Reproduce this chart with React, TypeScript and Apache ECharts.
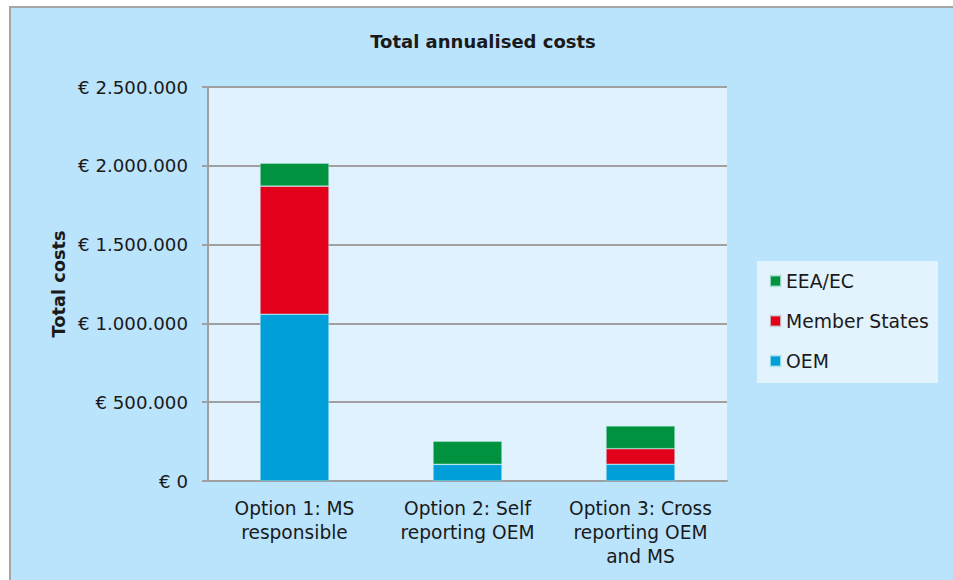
import React, { useEffect, useRef } from "react";
import * as echarts from "echarts";

const categories = [
  "Option 1: MS\nresponsible",
  "Option 2: Self\nreporting OEM",
  "Option 3: Cross\nreporting OEM\nand MS",
];
const oemValues = [1058000, 106000, 106000];
const memberStatesValues = [813000, 0, 99000];
const eeaEcValues = [146000, 146000, 145000];
const seriesNames = ["OEM", "Member States", "EEA/EC"];
const legendOrder = ["EEA/EC", "Member States", "OEM"];
const yTicks = { min: 0, max: 2500000, interval: 500000 };

const FONT = "'DejaVu Sans', Verdana, sans-serif";

function formatEuro(v: number): string {
  const s = Math.round(v).toString().replace(/\B(?=(\d{3})+(?!\d))/g, ".");
  return "€ " + s;
}

export default function App() {
  const ref = useRef<HTMLDivElement>(null);
  useEffect(() => {
    if (!ref.current) return;
    const chart = echarts.init(ref.current, undefined, { renderer: "svg" });
    const colors = ["#009fda", "#e2001a", "#00923f"];
    const values = [oemValues, memberStatesValues, eeaEcValues];
    chart.setOption({
      animation: false,
      backgroundColor: "#ffffff",
      textStyle: { fontFamily: FONT },
      graphic: [
        {
          type: "rect",
          z: -10,
          shape: { x: 10, y: 7, width: 960, height: 600 },
          style: { fill: "#bae3fc", stroke: "#a6a6a6", lineWidth: 2 },
        },
        {
          type: "rect",
          z: -5,
          shape: { x: 757, y: 261, width: 181, height: 122 },
          style: { fill: "#e2f3fe" },
        },
      ],
      title: {
        text: "Total annualised costs",
        left: 483,
        textAlign: "center",
        top: 32,
        padding: 0,
        textStyle: {
          fontFamily: FONT,
          fontSize: 18,
          fontWeight: "bold",
          color: "#1a1a1a",
        },
      },
      legend: {
        data: legendOrder,
        orient: "vertical",
        left: 769,
        top: 271,
        padding: 0,
        itemWidth: 11,
        itemHeight: 11,
        itemGap: 20,
        icon: "rect",
        textStyle: {
          fontFamily: FONT,
          fontSize: 18.8,
          color: "#1a1a1a",
          lineHeight: 20,
        },
        selectedMode: false,
      },
      grid: {
        left: 208,
        top: 87,
        right: 226,
        bottom: 99,
        show: true,
        backgroundColor: "#e0f2fd",
        borderWidth: 0,
      },
      xAxis: {
        type: "category",
        data: categories,
        axisLine: { lineStyle: { color: "#a0a0a0", width: 2 } },
        axisTick: { length: 6, lineStyle: { color: "#a0a0a0", width: 2 } },
        axisLabel: {
          fontFamily: FONT,
          fontSize: 18.6,
          lineHeight: 24,
          color: "#1a1a1a",
          margin: 15,
          interval: 0,
        },
      },
      yAxis: {
        type: "value",
        min: yTicks.min,
        max: yTicks.max,
        interval: yTicks.interval,
        name: "Total costs",
        nameLocation: "middle",
        nameGap: 140,
        nameTextStyle: {
          fontFamily: FONT,
          fontSize: 17.8,
          fontWeight: "bold",
          color: "#1a1a1a",
        },
        axisLine: { show: true, lineStyle: { color: "#a0a0a0", width: 2 } },
        axisTick: { show: true, length: 6, lineStyle: { color: "#a0a0a0", width: 2 } },
        splitLine: { lineStyle: { color: "#a0a0a0", width: 2 } },
        axisLabel: {
          fontFamily: FONT,
          fontSize: 18.2,
          color: "#1a1a1a",
          margin: 20,
          formatter: (v: number) => formatEuro(v),
        },
      },
      series: seriesNames.map((name, i) => ({
        name,
        type: "bar",
        stack: "total",
        data: values[i],
        barWidth: 69,
        itemStyle: {
          color: colors[i],
          borderColor: "rgba(200,240,240,0.7)",
          borderWidth: 0.6,
        },
      })),
    });
    return () => chart.dispose();
  }, []);
  return (
    <div
      ref={ref}
      style={{ position: "absolute", left: 0, top: 0, width: 953, height: 580 }}
    />
  );
}
